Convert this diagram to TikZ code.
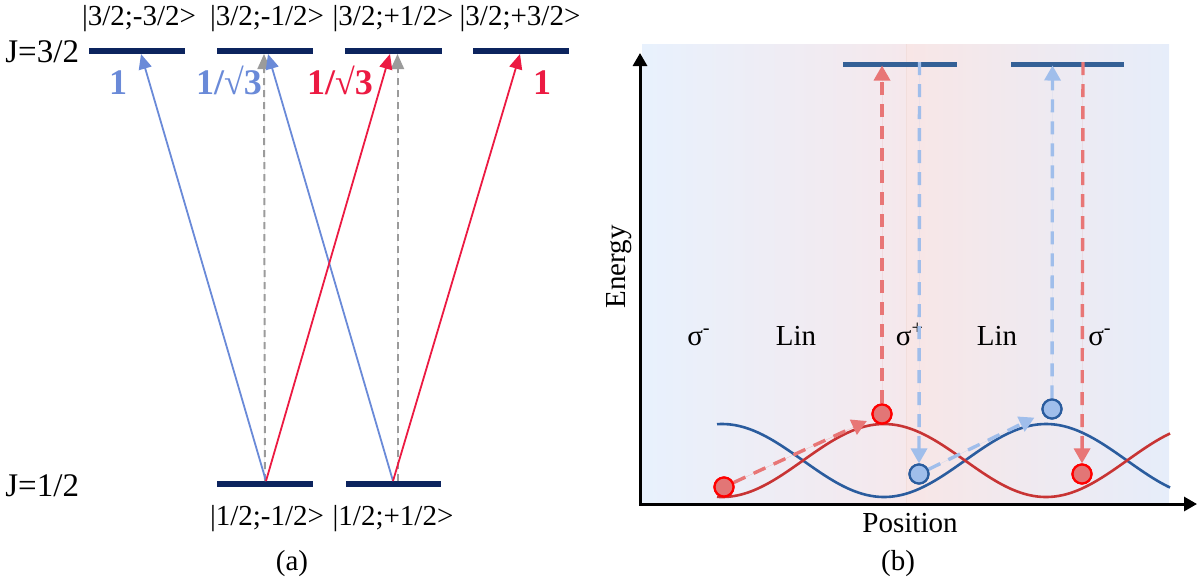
\documentclass[tikz,border=0pt]{standalone}
\usepackage{fontspec}
\setmainfont{Liberation Serif}
\usetikzlibrary{arrows.meta}
\definecolor{navy}{RGB}{12,36,94}
\definecolor{abl}{RGB}{106,138,216}
\definecolor{ared}{RGB}{236,26,66}
\definecolor{agray}{RGB}{155,155,155}
\definecolor{steel}{RGB}{52,96,150}
\definecolor{rcurvec}{RGB}{200,52,52}
\definecolor{bcurvec}{RGB}{42,92,158}
\definecolor{ldred}{RGB}{232,118,118}
\definecolor{ldblue}{RGB}{160,190,235}
\definecolor{rfillc}{RGB}{226,118,118}
\definecolor{bfillc}{RGB}{160,190,235}
\definecolor{bgblue}{RGB}{232,241,253}
\definecolor{bgmid}{RGB}{245,232,236}
\definecolor{bgpink}{RGB}{248,230,230}
\definecolor{bgblue2}{RGB}{230,237,250}
\definecolor{seam}{RGB}{242,222,220}
\tikzset{
  lbl/.style={font=\fontsize{14.5}{16}\selectfont, inner sep=0pt, anchor=base},
  jlbl/.style={font=\fontsize{16.5}{18}\selectfont, inner sep=0pt, anchor=base west},
  coef/.style={font=\bfseries\fontsize{18}{20}\selectfont, inner sep=0pt, anchor=base},
  abar/.style={line width=3pt, draw=navy},
  bbar/.style={line width=2.5pt, draw=steel},
  trans/.style={line width=0.9pt, -{Triangle[length=7.5pt,width=6.5pt]}},
  gdash/.style={line width=1pt, draw=agray, fill=agray, dash pattern=on 3.5pt off 2.5pt, -{Triangle[length=7.5pt,width=6.5pt]}},
  rdash/.style={line width=1.7pt, draw=ldred, fill=ldred, dash pattern=on 6.5pt off 4.5pt, -{Triangle[length=7.5pt,width=8pt]}},
  bdash/.style={line width=1.7pt, draw=ldblue, fill=ldblue, dash pattern=on 6.5pt off 4.5pt, -{Triangle[length=7.5pt,width=8pt]}},
  rball/.style={circle, minimum size=9.5pt, inner sep=0pt, draw=red, fill=rfillc, line width=1.1pt},
  bball/.style={circle, minimum size=9.5pt, inner sep=0pt, draw=bcurvec, fill=bfillc, line width=1.1pt},
  axisline/.style={line width=1.5pt, {Triangle[length=6.5pt,width=7pt]}-{Triangle[length=6.5pt,width=7pt]}},
  curve/.style={line width=1.3pt}
}
\begin{document}
\begin{tikzpicture}[x=0.5pt,y=-0.5pt]
\useasboundingbox (0,0) rectangle (1198,585);

% ================= (a) =================
\node[jlbl] (J32) at (5,62) {J=3/2};
\node[jlbl] (J12) at (5,496) {J=1/2};

\coordinate (u1a) at (89,50.5);  \coordinate (u1b) at (185,50.5);
\coordinate (u2a) at (217,50.5); \coordinate (u2b) at (313,50.5);
\coordinate (u3a) at (345,50.5); \coordinate (u3b) at (442,50.5);
\coordinate (u4a) at (473,50.5); \coordinate (u4b) at (569,50.5);
\coordinate (l1a) at (217,483.5); \coordinate (l1b) at (313,483.5);
\coordinate (l2a) at (346,483.5); \coordinate (l2b) at (441,483.5);
\draw[abar] (u1a) -- (u1b);
\draw[abar] (u2a) -- (u2b);
\draw[abar] (u3a) -- (u3b);
\draw[abar] (u4a) -- (u4b);
\draw[abar] (l1a) -- (l1b);
\draw[abar] (l2a) -- (l2b);

\node[lbl] (k1) at (139,25) {|3/2;-3/2>};
\node[lbl] (k2) at (267,25) {|3/2;-1/2>};
\node[lbl] (k3) at (393,25) {|3/2;+1/2>};
\node[lbl] (k4) at (520,25) {|3/2;+3/2>};
\node[lbl] (k5) at (267,525) {|1/2;-1/2>};
\node[lbl] (k6) at (393,525) {|1/2;+1/2>};
\node[lbl] (capa) at (292,570) {(a)};

\coordinate (lm) at (266,481);
\coordinate (lp) at (393,481);
\coordinate (g1s) at (265,481); \coordinate (g1t) at (264,54);
\coordinate (g2s) at (397.5,481); \coordinate (g2t) at (397.5,54);
\coordinate (t1) at (141,54);
\coordinate (t2) at (268,54);
\coordinate (t3) at (390,54);
\coordinate (t4) at (520,54);

\draw[gdash] (g1s) -- (g1t);
\draw[gdash] (g2s) -- (g2t);
\draw[trans, draw=abl, fill=abl] (lm) -- (t1);
\draw[trans, draw=abl, fill=abl] (lp) -- (t2);
\draw[trans, draw=ared, fill=ared] (lm) -- (t3);
\draw[trans, draw=ared, fill=ared] (lp) -- (t4);

\node[coef, text=abl] (c1) at (118,94) {1};
\node[coef, text=abl] (c2) at (229,94) {1/√3};
\node[coef, text=ared] (c3) at (340,94) {1/√3};
\node[coef, text=ared] (c4) at (542,94) {1};

% ================= (b) =================
\shade[left color=bgblue, right color=bgmid] (642,44) rectangle (906,504);
\shade[left color=bgpink, right color=bgblue2] (906,44) rectangle (1169,504);
\draw[line width=0.3pt, draw=seam] (906,44) -- (906,504);

\coordinate (org) at (640,504);
\coordinate (ytip) at (640,53);
\coordinate (xtip) at (1197,504);
\draw[axisline] (ytip) -- (org) -- (xtip);

\node[lbl, rotate=90, anchor=center] (en) at (619,267) {Energy};
\node[lbl] (pos) at (910,532) {Position};
\node[lbl] (capb) at (898,570) {(b)};

\node[lbl] (s1) at (699,345) {σ\textsuperscript{-}};
\node[lbl] (lin1) at (796,345) {Lin};
\node[lbl] (s2) at (910,345) {σ\textsuperscript{+}};
\node[lbl] (lin2) at (997,345) {Lin};
\node[lbl] (s3) at (1100,345) {σ\textsuperscript{-}};

\coordinate (b1a) at (843,64); \coordinate (b1b) at (957,64);
\coordinate (b2a) at (1011,64); \coordinate (b2b) at (1124,64);
\draw[bbar] (b1a) -- (b1b);
\draw[bbar] (b2a) -- (b2b);

\draw[curve, draw=bcurvec] plot[domain=717:1170, samples=160, smooth] (\x,{460.5-36.5*cos(1.11111*(\x-722))});
\draw[curve, draw=rcurvec] plot[domain=717:1170, samples=160, smooth] (\x,{460.5+36.5*cos(1.11111*(\x-722))});

\node[rball] (R1) at (724,487) {};
\node[rball] (R2) at (882,414) {};
\node[bball] (B1) at (919,474) {};
\node[bball] (B2) at (1052,409) {};
\node[rball] (R3) at (1082,474) {};

\coordinate (U1r) at (882,65.5);
\coordinate (D1b) at (919.5,62);
\coordinate (U2b) at (1052.5,65.5);
\coordinate (D2r) at (1083,62);

\draw[rdash, shorten >=3pt] (R1) -- (R2);
\draw[rdash] (R2.north) -- (U1r);
\draw[bdash] (D1b) -- (B1.north);
\draw[bdash, shorten >=4.5pt] (B1) -- (B2);
\draw[bdash] (B2.north) -- (U2b);
\draw[rdash] (D2r) -- (R3.north);

% redraw balls on top
\node[rball] at (R1) {};
\node[rball] at (R2) {};
\node[bball] at (B1) {};
\node[bball] at (B2) {};
\node[rball] at (R3) {};
\end{tikzpicture}
\end{document}
